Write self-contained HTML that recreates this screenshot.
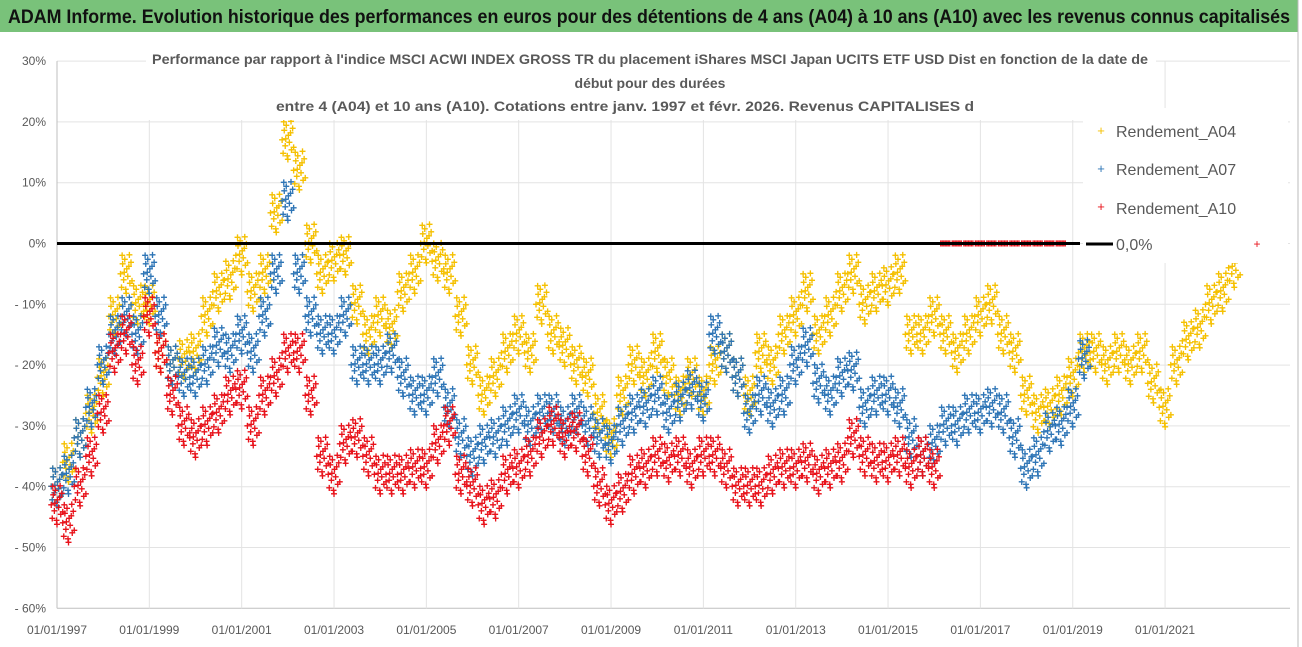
<!DOCTYPE html>
<html><head><meta charset="utf-8"><style>
body{margin:0;background:#fff;width:1302px;height:647px;overflow:hidden}
svg{display:block;font-family:"Liberation Sans",sans-serif}
</style></head><body>
<svg id="c" width="1302" height="647">
<rect x="0" y="0" width="1302" height="647" fill="#fff"/>
<rect x="0" y="0" width="1298" height="32" fill="#79c27a"/>
<text x="8" y="23" font-size="19" font-weight="bold" fill="#111" textLength="1282" lengthAdjust="spacingAndGlyphs">ADAM Informe. Evolution historique des performances en euros pour des détentions de 4 ans (A04) à 10 ans (A10) avec les revenus connus capitalisés</text>
<line x1="1298" y1="0" x2="1298" y2="647" stroke="#bbb"/>
<g id="grid"></g>
<g id="marks"></g>
<line id="zeroLine" x1="57" x2="1080" stroke="#000" stroke-width="3"/>
<rect x="146" y="44" width="1010" height="76" fill="#fff"/>
<g font-size="14" font-weight="bold" fill="#595959" text-anchor="middle">
<text x="650" y="64" textLength="996" lengthAdjust="spacingAndGlyphs">Performance par rapport à l'indice MSCI ACWI INDEX GROSS TR  du placement iShares MSCI Japan UCITS ETF USD Dist en fonction de la date de</text>
<text x="650" y="88">début pour des durées</text>
<text x="625" y="111" textLength="698" lengthAdjust="spacingAndGlyphs">entre 4 (A04) et 10 ans (A10). Cotations entre janv. 1997 et févr. 2026. Revenus CAPITALISES d</text>
</g>
<g>
<rect x="1083" y="108" width="205" height="155" fill="#fff"/>
<text x="1101" y="135" font-size="13" fill="#f5c000" text-anchor="middle">+</text>
<text x="1116" y="137" font-size="16" fill="#595959">Rendement_A04</text>
<text x="1101" y="173" font-size="13" fill="#2e75b6" text-anchor="middle">+</text>
<text x="1116" y="175" font-size="16" fill="#595959">Rendement_A07</text>
<text x="1101" y="211" font-size="13" fill="#e8121a" text-anchor="middle">+</text>
<text x="1116" y="214" font-size="16" fill="#595959">Rendement_A10</text>
<line x1="1086" y1="244" x2="1113" y2="244" stroke="#000" stroke-width="3"/>
<text x="1116" y="250" font-size="16" fill="#595959">0,0%</text>
</g>
<text x="1257" y="248" font-size="12" fill="#e8121a" text-anchor="middle">+</text>
</svg>
<script>
const yTicks=[30,20,10,0,-10,-20,-30,-40,-50,-60];
const xTickYears=[1997,1999,2001,2003,2005,2007,2009,2011,2013,2015,2017,2019,2021];
const a04Start=1997, a07Start=1997, a10Start=1997, step=0.25;
const a04=[-40,-36,-32,-28,-22,-12,-5,-10,-10,-18,-20,-19,-18,-12,-8,-6,-2,-8,-5,5,17,12,0,-5,-3,-2,-10,-15,-12,-14,-8,-5,0,-3,-5,-12,-20,-25,-22,-18,-15,-18,-10,-15,-17,-20,-22,-28,-32,-25,-20,-22,-18,-22,-25,-22,-25,-20,-18,-22,-25,-18,-20,-15,-12,-8,-15,-12,-8,-5,-10,-8,-7,-5,-15,-15,-12,-15,-18,-15,-12,-10,-15,-18,-25,-28,-27,-25,-22,-18,-18,-20,-18,-20,-18,-23,-27,-20,-16,-14,-10,-8,-4];
const a07=[-40,-38,-32,-27,-20,-15,-12,-15,-5,-12,-20,-22,-22,-20,-17,-18,-15,-18,-12,-5,7,-5,-12,-15,-15,-12,-20,-20,-20,-18,-22,-25,-25,-22,-27,-32,-35,-33,-32,-30,-28,-30,-28,-28,-30,-28,-30,-32,-33,-30,-28,-27,-25,-28,-26,-24,-26,-15,-18,-22,-28,-25,-27,-25,-20,-17,-23,-25,-22,-21,-27,-25,-25,-27,-32,-35,-33,-30,-30,-28,-28,-27,-28,-32,-37,-35,-31,-30,-27,-19];
const a10=[-43,-46,-40,-35,-28,-18,-15,-20,-12,-18,-25,-30,-32,-30,-28,-25,-24,-30,-25,-22,-18,-18,-25,-35,-38,-33,-32,-35,-38,-38,-38,-37,-37,-33,-30,-38,-40,-43,-42,-38,-37,-35,-32,-30,-32,-31,-35,-40,-43,-41,-38,-37,-35,-36,-35,-37,-35,-35,-37,-40,-40,-40,-38,-37,-37,-36,-38,-37,-36,-32,-35,-36,-36,-35,-37,-35,-37];
const a10ZeroDates=[2016.25,2016.5,2016.75,2017,2017.25,2017.5,2017.75,2018,2018.25,2018.5,2018.75];
const X0=57, PX_YEAR=46.17, Y0=243.5, PX_PCT=6.08;
function xs(yr){return X0+(yr-1997)*PX_YEAR;}
function ys(v){return Y0-v*PX_PCT;}
const NS='http://www.w3.org/2000/svg';
const grid=document.getElementById('grid'), marks=document.getElementById('marks');
yTicks.forEach(t=>{
 const l=document.createElementNS(NS,'line');
 l.setAttribute('x1',X0);l.setAttribute('x2',1290);l.setAttribute('y1',ys(t));l.setAttribute('y2',ys(t));
 l.setAttribute('stroke',t===-60?'#bfbfbf':'#e3e3e3');
 
 
 grid.appendChild(l);
 const tx=document.createElementNS(NS,'text');
 tx.setAttribute('x',46);tx.setAttribute('y',ys(t)+4);tx.setAttribute('text-anchor','end');
 tx.setAttribute('font-size','12');tx.setAttribute('fill','#595959');
 tx.textContent=(t<0?'- '+(-t):t)+'%';
 
 
 grid.appendChild(tx);
});
xTickYears.forEach(yr=>{
 const x=xs(yr);
 const l=document.createElementNS(NS,'line');
 l.setAttribute('x1',x);l.setAttribute('x2',x);l.setAttribute('y1',ys(30));l.setAttribute('y2',ys(-60));
 l.setAttribute('stroke',yr===1997?'#bfbfbf':'#e3e3e3');
 
 
 grid.appendChild(l);
 const tx=document.createElementNS(NS,'text');
 tx.setAttribute('x',x);tx.setAttribute('y',634);tx.setAttribute('text-anchor','middle');
 tx.setAttribute('font-size','12');tx.setAttribute('fill','#595959');
 tx.textContent='01/01/'+yr;
 
 
 grid.appendChild(tx);
});
document.getElementById('zeroLine').setAttribute('y1',ys(0));
document.getElementById('zeroLine').setAttribute('y2',ys(0));
const offs=[[-5.5,0],[-4.5,-2.2],[-3.5,1.6],[-2.5,-1],[-1.5,2.4],[-0.5,-2.6],[0.5,0.8],[1.5,-0.4],[2.5,1.2],[3.5,-1.6],[4.5,1.9],[5.5,-1.2],[-4,3],[0,-3.2],[3,3.1],[-2,0.2]];
function series(arr,start,color,name){
 const g=document.createElementNS(NS,'g');
 g.setAttribute('fill',color);g.setAttribute('font-size','12');g.setAttribute('font-weight','bold');g.setAttribute('text-anchor','middle');
 
 
 arr.forEach((v,i)=>{
  const yr=start+i*step;
  offs.forEach(o=>{
   const t=document.createElementNS(NS,'text');
   t.setAttribute('x',(xs(yr)+o[0]*1.05).toFixed(1));
   t.setAttribute('y',(ys(v+o[1])+4).toFixed(1));
   t.textContent='+';
   g.appendChild(t);
  });
 });
 marks.appendChild(g);
}
series(a04,a04Start,'#f5c000','series-a04');
series(a07,a07Start,'#2e75b6','series-a07');
series(a10,a10Start,'#e8121a','series-a10');
const gz=document.createElementNS(NS,'g');
gz.setAttribute('fill','#e8121a');gz.setAttribute('font-size','12');gz.setAttribute('font-weight','bold');gz.setAttribute('text-anchor','middle');


a10ZeroDates.forEach(d=>{
 for(let k=-5;k<=5;k+=1.5){
  const t=document.createElementNS(NS,'text');
  t.setAttribute('x',(xs(d)+k).toFixed(1));t.setAttribute('y',(ys(0)+4).toFixed(1));
  t.textContent='+';gz.appendChild(t);
 }
});
marks.appendChild(gz);
</script>
</body></html>
